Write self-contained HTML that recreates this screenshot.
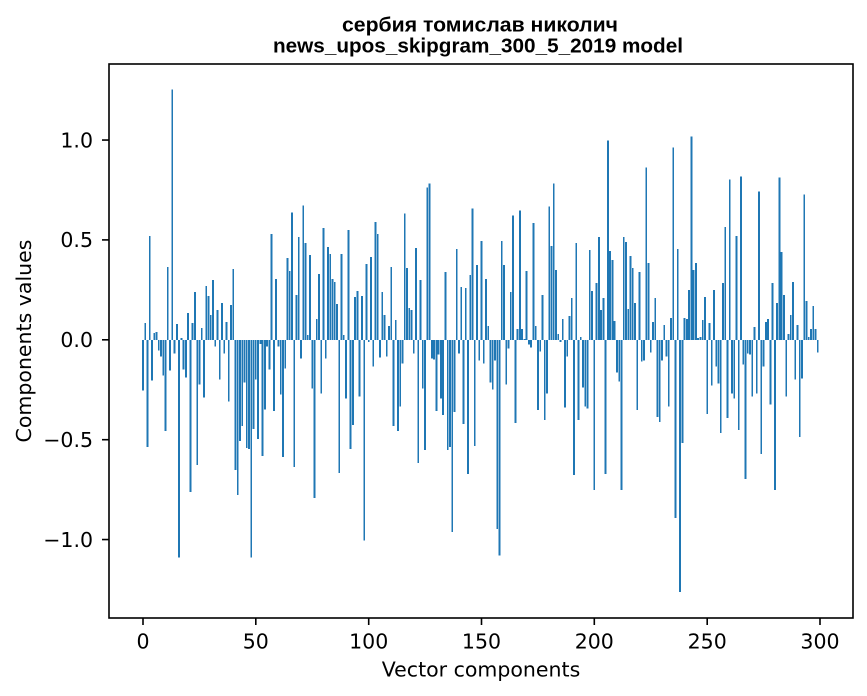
<!DOCTYPE html>
<html>
<head>
<meta charset="utf-8">
<style>
html,body{margin:0;padding:0;background:#fff;}
svg{display:block;}
.t{font-family:"DejaVu Sans","Liberation Sans",sans-serif;font-size:20.5px;fill:#000;}
.ttl{font-family:"Liberation Sans","DejaVu Sans",sans-serif;font-weight:bold;font-size:20.5px;fill:#000;}
</style>
</head>
<body>
<svg width="867" height="696" viewBox="0 0 867 696" xmlns="http://www.w3.org/2000/svg">
<rect x="0" y="0" width="867" height="696" fill="#fff"/>
<!-- title -->
<text class="ttl" x="480" y="31.3" text-anchor="middle" textLength="276" lengthAdjust="spacingAndGlyphs">сербия томислав николич</text>
<text class="ttl" x="478" y="52.3" text-anchor="middle" textLength="410" lengthAdjust="spacingAndGlyphs">news_upos_skipgram_300_5_2019 model</text>

<!-- bars -->
<g transform="translate(143,339.8) scale(2.2567,-199.75)">
<path fill="#1f77b4" shape-rendering="crispEdges" d="M-.4 0h.8v-.254h-.8z M.6 0h.8v.085h-.8z M1.6 0h.8v-.537h-.8z M2.6 0h.8v.519h-.8z M3.6 0h.8v-.203h-.8z M4.6 0h.8v.035h-.8z M5.6 0h.8v.04h-.8z M6.6 0h.8v-.053h-.8z M7.6 0h.8v-.083h-.8z M8.6 0h.8v-.178h-.8z
M9.6 0h.8v-.457h-.8z M10.6 0h.8v.364h-.8z M11.6 0h.8v-.153h-.8z M12.6 0h.8v1.252h-.8z M13.6 0h.8v-.068h-.8z M14.6 0h.8v.08h-.8z M15.6 0h.8v-1.09h-.8z M16.6 0h.8v.01h-.8z M17.6 0h.8v-.148h-.8z M18.6 0h.8v-.188h-.8z
M19.6 0h.8v.135h-.8z M20.6 0h.8v-.761h-.8z M21.6 0h.8v.085h-.8z M22.6 0h.8v.239h-.8z M23.6 0h.8v-.627h-.8z M24.6 0h.8v-.223h-.8z M25.6 0h.8v.06h-.8z M26.6 0h.8v-.288h-.8z M27.6 0h.8v.269h-.8z M28.6 0h.8v.219h-.8z
M29.6 0h.8v.125h-.8z M30.6 0h.8v.299h-.8z M31.6 0h.8v-.033h-.8z M32.6 0h.8v.15h-.8z M33.6 0h.8v-.198h-.8z M34.6 0h.8v.185h-.8z M35.6 0h.8v-.068h-.8z M36.6 0h.8v.09h-.8z M37.6 0h.8v-.308h-.8z M38.6 0h.8v.175h-.8z
M39.6 0h.8v.354h-.8z M40.6 0h.8v-.652h-.8z M41.6 0h.8v-.776h-.8z M42.6 0h.8v-.507h-.8z M43.6 0h.8v-.432h-.8z M44.6 0h.8v-.213h-.8z M45.6 0h.8v-.542h-.8z M46.6 0h.8v-.547h-.8z M47.6 0h.8v-1.09h-.8z M48.6 0h.8v-.447h-.8z
M49.6 0h.8v-.198h-.8z M50.6 0h.8v-.497h-.8z M51.6 0h.8v-.02h-.8z M52.6 0h.8v-.582h-.8z M53.6 0h.8v-.349h-.8z M54.6 0h.8v-.033h-.8z M55.6 0h.8v-.148h-.8z M56.6 0h.8v.529h-.8z M57.6 0h.8v-.357h-.8z M58.6 0h.8v.304h-.8z
M59.6 0h.8v-.033h-.8z M60.6 0h.8v-.273h-.8z M61.6 0h.8v-.587h-.8z M62.6 0h.8v-.143h-.8z M63.6 0h.8v.409h-.8z M64.6 0h.8v.344h-.8z M65.6 0h.8v.638h-.8z M66.6 0h.8v-.637h-.8z M67.6 0h.8v.224h-.8z M68.6 0h.8v.514h-.8z
M69.6 0h.8v-.093h-.8z M70.6 0h.8v.673h-.8z M71.6 0h.8v.484h-.8z M72.6 0h.8v.025h-.8z M73.6 0h.8v.424h-.8z M74.6 0h.8v-.243h-.8z M75.6 0h.8v-.791h-.8z M76.6 0h.8v.105h-.8z M77.6 0h.8v.329h-.8z M78.6 0h.8v-.268h-.8z
M79.6 0h.8v.559h-.8z M80.6 0h.8v-.093h-.8z M81.6 0h.8v.464h-.8z M82.6 0h.8v.429h-.8z M83.6 0h.8v.304h-.8z M84.6 0h.8v.289h-.8z M85.6 0h.8v.18h-.8z M86.6 0h.8v-.667h-.8z M87.6 0h.8v.429h-.8z M88.6 0h.8v.025h-.8z
M89.6 0h.8v-.293h-.8z M90.6 0h.8v.549h-.8z M91.6 0h.8v-.547h-.8z M92.6 0h.8v-.427h-.8z M93.6 0h.8v.214h-.8z M94.6 0h.8v.244h-.8z M95.6 0h.8v-.283h-.8z M96.6 0h.8v.219h-.8z M97.6 0h.8v-1.006h-.8z M98.6 0h.8v.379h-.8z
M99.6 0h.8v-.01h-.8z M100.6 0h.8v.414h-.8z M101.6 0h.8v-.133h-.8z M102.6 0h.8v.589h-.8z M103.6 0h.8v.529h-.8z M104.6 0h.8v-.088h-.8z M105.6 0h.8v.239h-.8z M106.6 0h.8v.125h-.8z M107.6 0h.8v-.083h-.8z M108.6 0h.8v.07h-.8z
M109.6 0h.8v.364h-.8z M110.6 0h.8v-.432h-.8z M111.6 0h.8v.1h-.8z M112.6 0h.8v-.457h-.8z M113.6 0h.8v-.333h-.8z M114.6 0h.8v-.118h-.8z M115.6 0h.8v.633h-.8z M116.6 0h.8v.359h-.8z M117.6 0h.8v.16h-.8z M118.6 0h.8v.15h-.8z
M119.6 0h.8v-.068h-.8z M120.6 0h.8v.459h-.8z M121.6 0h.8v-.617h-.8z M122.6 0h.8v.299h-.8z M123.6 0h.8v-.243h-.8z M124.6 0h.8v-.552h-.8z M125.6 0h.8v.763h-.8z M126.6 0h.8v.783h-.8z M127.6 0h.8v-.093h-.8z M128.6 0h.8v-.098h-.8z
M129.6 0h.8v-.357h-.8z M130.6 0h.8v-.073h-.8z M131.6 0h.8v-.293h-.8z M132.6 0h.8v-.377h-.8z M133.6 0h.8v.339h-.8z M134.6 0h.8v-.552h-.8z M135.6 0h.8v-.537h-.8z M136.6 0h.8v-.961h-.8z M137.6 0h.8v-.362h-.8z M138.6 0h.8v.454h-.8z
M139.6 0h.8v-.068h-.8z M140.6 0h.8v.264h-.8z M141.6 0h.8v-.422h-.8z M142.6 0h.8v.259h-.8z M143.6 0h.8v-.672h-.8z M144.6 0h.8v.324h-.8z M145.6 0h.8v.658h-.8z M146.6 0h.8v-.532h-.8z M147.6 0h.8v.374h-.8z M148.6 0h.8v-.103h-.8z
M149.6 0h.8v.494h-.8z M150.6 0h.8v-.118h-.8z M151.6 0h.8v.304h-.8z M152.6 0h.8v.07h-.8z M153.6 0h.8v-.213h-.8z M154.6 0h.8v-.248h-.8z M155.6 0h.8v-.103h-.8z M156.6 0h.8v-.946h-.8z M157.6 0h.8v-1.081h-.8z M158.6 0h.8v.494h-.8z
M159.6 0h.8v.374h-.8z M160.6 0h.8v-.223h-.8z M161.6 0h.8v-.043h-.8z M162.6 0h.8v.239h-.8z M163.6 0h.8v.623h-.8z M164.6 0h.8v-.417h-.8z M165.6 0h.8v.055h-.8z M166.6 0h.8v.648h-.8z M167.6 0h.8v.055h-.8z M168.6 0h.8v.003h-.8z
M169.6 0h.8v.344h-.8z M170.6 0h.8v-.023h-.8z M171.6 0h.8v-.038h-.8z M172.6 0h.8v.584h-.8z M173.6 0h.8v.07h-.8z M174.6 0h.8v-.352h-.8z M175.6 0h.8v-.058h-.8z M176.6 0h.8v.224h-.8z M177.6 0h.8v-.402h-.8z M178.6 0h.8v-.268h-.8z
M179.6 0h.8v.668h-.8z M180.6 0h.8v.469h-.8z M181.6 0h.8v.783h-.8z M182.6 0h.8v.349h-.8z M183.6 0h.8v.03h-.8z M184.6 0h.8v-.01h-.8z M185.6 0h.8v.105h-.8z M186.6 0h.8v-.338h-.8z M187.6 0h.8v-.083h-.8z M188.6 0h.8v.12h-.8z
M189.6 0h.8v.209h-.8z M190.6 0h.8v-.677h-.8z M191.6 0h.8v.484h-.8z M192.6 0h.8v-.402h-.8z M193.6 0h.8v.015h-.8z M194.6 0h.8v-.238h-.8z M195.6 0h.8v-.333h-.8z M196.6 0h.8v-.343h-.8z M197.6 0h.8v.449h-.8z M198.6 0h.8v.244h-.8z
M199.6 0h.8v-.751h-.8z M200.6 0h.8v.284h-.8z M201.6 0h.8v.514h-.8z M202.6 0h.8v.15h-.8z M203.6 0h.8v.209h-.8z M204.6 0h.8v-.672h-.8z M205.6 0h.8v.998h-.8z M206.6 0h.8v.444h-.8z M207.6 0h.8v.399h-.8z M208.6 0h.8v.095h-.8z
M209.6 0h.8v-.163h-.8z M210.6 0h.8v-.208h-.8z M211.6 0h.8v-.751h-.8z M212.6 0h.8v.514h-.8z M213.6 0h.8v.489h-.8z M214.6 0h.8v.155h-.8z M215.6 0h.8v.419h-.8z M216.6 0h.8v.359h-.8z M217.6 0h.8v.185h-.8z M218.6 0h.8v-.352h-.8z
M219.6 0h.8v.339h-.8z M220.6 0h.8v-.108h-.8z M221.6 0h.8v-.103h-.8z M222.6 0h.8v.863h-.8z M223.6 0h.8v.384h-.8z M224.6 0h.8v-.063h-.8z M225.6 0h.8v.09h-.8z M226.6 0h.8v.209h-.8z M227.6 0h.8v-.387h-.8z M228.6 0h.8v-.412h-.8z
M229.6 0h.8v-.103h-.8z M230.6 0h.8v.075h-.8z M231.6 0h.8v-.083h-.8z M232.6 0h.8v-.333h-.8z M233.6 0h.8v.11h-.8z M234.6 0h.8v.963h-.8z M235.6 0h.8v-.891h-.8z M236.6 0h.8v.454h-.8z M237.6 0h.8v-1.262h-.8z M238.6 0h.8v-.517h-.8z
M239.6 0h.8v.11h-.8z M240.6 0h.8v.105h-.8z M241.6 0h.8v.249h-.8z M242.6 0h.8v1.018h-.8z M243.6 0h.8v.349h-.8z M244.6 0h.8v.384h-.8z M245.6 0h.8v.01h-.8z M246.6 0h.8v.015h-.8z M247.6 0h.8v.1h-.8z M248.6 0h.8v.214h-.8z
M249.6 0h.8v-.372h-.8z M250.6 0h.8v.085h-.8z M251.6 0h.8v-.228h-.8z M252.6 0h.8v.249h-.8z M253.6 0h.8v-.133h-.8z M254.6 0h.8v-.218h-.8z M255.6 0h.8v-.467h-.8z M256.6 0h.8v.284h-.8z M257.6 0h.8v.564h-.8z M258.6 0h.8v-.392h-.8z
M259.6 0h.8v.803h-.8z M260.6 0h.8v-.268h-.8z M261.6 0h.8v-.293h-.8z M262.6 0h.8v.519h-.8z M263.6 0h.8v-.452h-.8z M264.6 0h.8v.818h-.8z M265.6 0h.8v-.123h-.8z M266.6 0h.8v-.698h-.8z M267.6 0h.8v-.068h-.8z M268.6 0h.8v-.073h-.8z
M269.6 0h.8v-.283h-.8z M270.6 0h.8v.065h-.8z M271.6 0h.8v-.268h-.8z M272.6 0h.8v.743h-.8z M273.6 0h.8v-.572h-.8z M274.6 0h.8v-.133h-.8z M275.6 0h.8v.09h-.8z M276.6 0h.8v.105h-.8z M277.6 0h.8v-.323h-.8z M278.6 0h.8v.284h-.8z
M279.6 0h.8v-.751h-.8z M280.6 0h.8v.185h-.8z M281.6 0h.8v.813h-.8z M282.6 0h.8v.439h-.8z M283.6 0h.8v.224h-.8z M284.6 0h.8v-.283h-.8z M285.6 0h.8v.03h-.8z M286.6 0h.8v.125h-.8z M287.6 0h.8v.289h-.8z M288.6 0h.8v-.198h-.8z
M289.6 0h.8v.075h-.8z M290.6 0h.8v-.487h-.8z M291.6 0h.8v-.193h-.8z M292.6 0h.8v.728h-.8z M293.6 0h.8v.195h-.8z M294.6 0h.8v.015h-.8z M295.6 0h.8v.055h-.8z M296.6 0h.8v.17h-.8z M297.6 0h.8v.055h-.8z M298.6 0h.8v-.063h-.8z"/>
</g>

<!-- axes frame -->
<rect x="109" y="64" width="744" height="554" fill="none" stroke="#000" stroke-width="1.6"/>

<!-- x ticks -->
<g stroke="#000" stroke-width="1.6">
<line x1="143" y1="618" x2="143" y2="625"/>
<line x1="255.8" y1="618" x2="255.8" y2="625"/>
<line x1="368.7" y1="618" x2="368.7" y2="625"/>
<line x1="481.5" y1="618" x2="481.5" y2="625"/>
<line x1="594.3" y1="618" x2="594.3" y2="625"/>
<line x1="707.2" y1="618" x2="707.2" y2="625"/>
<line x1="820" y1="618" x2="820" y2="625"/>
</g>
<text class="t" x="143" y="648.5" text-anchor="middle">0</text>
<text class="t" x="255.8" y="648.5" text-anchor="middle">50</text>
<text class="t" x="368.7" y="648.5" text-anchor="middle">100</text>
<text class="t" x="481.5" y="648.5" text-anchor="middle">150</text>
<text class="t" x="594.3" y="648.5" text-anchor="middle">200</text>
<text class="t" x="707.2" y="648.5" text-anchor="middle">250</text>
<text class="t" x="820" y="648.5" text-anchor="middle">300</text>

<!-- y ticks -->
<g stroke="#000" stroke-width="1.6">
<line x1="102" y1="140.05" x2="109" y2="140.05"/>
<line x1="102" y1="239.9" x2="109" y2="239.9"/>
<line x1="102" y1="339.8" x2="109" y2="339.8"/>
<line x1="102" y1="439.7" x2="109" y2="439.7"/>
<line x1="102" y1="539.55" x2="109" y2="539.55"/>
</g>
<text class="t" x="93" y="147.3" text-anchor="end">1.0</text>
<text class="t" x="93" y="247.2" text-anchor="end">0.5</text>
<text class="t" x="93" y="347.1" text-anchor="end">0.0</text>
<text class="t" x="93" y="447" text-anchor="end">−0.5</text>
<text class="t" x="93" y="546.8" text-anchor="end">−1.0</text>

<!-- axis labels -->
<text class="t" x="481" y="676.5" text-anchor="middle">Vector components</text>
<text class="t" transform="translate(31,341) rotate(-90)" x="0" y="0" text-anchor="middle">Components values</text>
</svg>
</body>
</html>
